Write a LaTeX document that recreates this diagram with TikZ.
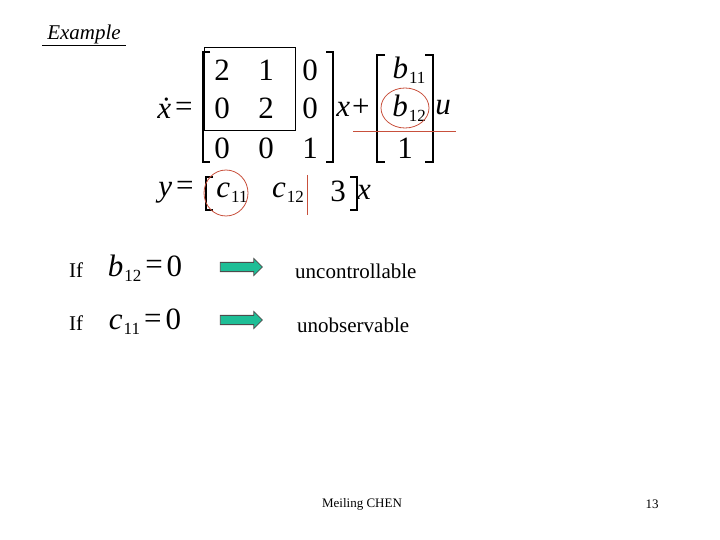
\documentclass[tikz,border=0pt]{standalone}
\usepackage{fontspec}
\setmainfont{Liberation Serif}
\usetikzlibrary{shapes.arrows}
\definecolor{teal1}{RGB}{30,190,150}
\definecolor{redc}{RGB}{200,80,60}
\newcommand\varsub[2]{\textit{#1}\kern1pt\raisebox{-0.35ex}{\fontsize{17}{17}\selectfont #2}}
\newcommand\eqsign{\kern4pt\raisebox{0.1ex}{=}\kern4pt}
\begin{document}
\begin{tikzpicture}[x=1pt,y=-1pt,
  big/.style={inner sep=0pt,font=\fontsize{31}{31}\selectfont},
  mid/.style={inner sep=0pt,font=\fontsize{21}{21}\selectfont},
  brk/.style={line width=1.6pt},
  ring/.style={draw=redc,line width=0.8pt},
  arr/.style={single arrow,draw=black!70,fill=teal1,minimum height=42pt,minimum width=17pt,single arrow head extend=2pt,inner sep=2pt,line width=0.8pt}]
\useasboundingbox (0,0) rectangle (720,540);
\node[mid,font=\fontsize{21}{21}\selectfont\itshape] (ex) at (84,34) {Example};
\draw (42,45) -- (126,45);
% A matrix
\node[big] (xd) at (177,108) {\textit{\.{x}}\eqsign};
\draw[brk] (210,52) -- (203,52) -- (203,162) -- (210,162);
\draw[brk] (326,52) -- (333,52) -- (333,162) -- (326,162);
\draw[line width=1pt] (204,48) rectangle (295,131);
\foreach \r/\yy in {{2,1,0}/70,{0,2,0}/108,{0,0,1}/148}{
  \foreach \v [count=\i] in \r { \node[big] at ({222+44*(\i-1)},\yy) {\v}; }
}
\node[big] (xp) at (353,108) {\textit{x}\kern2pt+};
\draw[brk] (385,55) -- (377,55) -- (377,162) -- (385,162);
\draw[brk] (425,55) -- (433,55) -- (433,162) -- (425,162);
\node[big] (b11) at (409,70) {\varsub{b}{11}};
\node[big] (b12) at (409,108) {\varsub{b}{12}};
\node[big] (one) at (405,148) {1};
\node[big] (u) at (443,108) {\textit{u}};
\draw[ring] (405,108) ellipse (24 and 20);
\draw[redc,line width=0.8pt] (353,131) -- (456,131);
% C row
\node[big] (yeq) at (178,192) {\textit{y}\eqsign};
\draw[brk] (213,177) -- (206,177) -- (206,210) -- (213,210);
\node[big] (c11) at (232,193) {\varsub{c}{11}};
\node[big] (c12) at (288,193) {\varsub{c}{12}};
\node[big] (three) at (338,191) {3};
\draw[brk] (350,177) -- (357,177) -- (357,210) -- (350,210);
\node[big] (xx) at (364,192) {\textit{x}};
\draw[ring] (226,193) ellipse (22 and 23);
\draw[redc,line width=0.8pt] (307,175) -- (307,215);
% conditions
\node[mid] (if1) at (76,270) {If};
\node[big] (e1) at (145,268) {\varsub{b}{12}\eqsign 0};
\node[arr] (a1) at (239,267) {};
\node[mid,anchor=west] (t1) at (295,271) {uncontrollable};
\node[mid] (if2) at (76,323) {If};
\node[big] (e2) at (145,322) {\varsub{c}{11}\eqsign 0};
\node[arr] (a2) at (239,320) {};
\node[mid,anchor=west] (t2) at (297,325) {unobservable};
\node[inner sep=0pt,font=\fontsize{13}{13}\selectfont] (au) at (362,504) {Meiling CHEN};
\node[inner sep=0pt,font=\fontsize{13}{13}\selectfont] (pg) at (652,504) {13};
\end{tikzpicture}
\end{document}
